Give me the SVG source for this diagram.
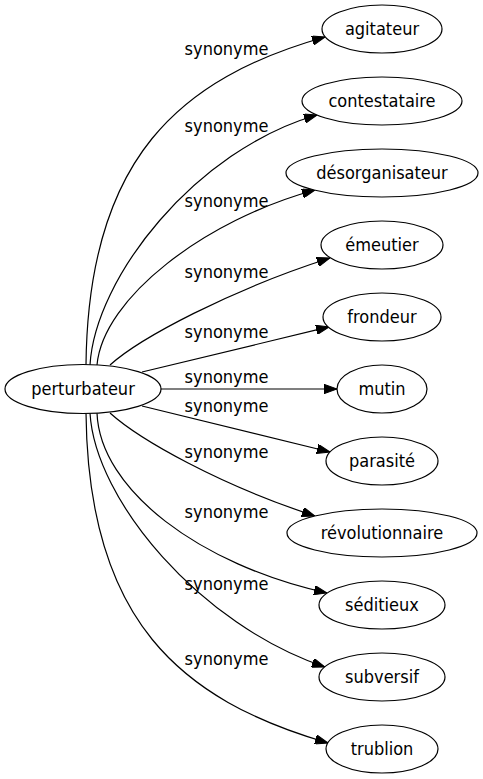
<svg xmlns="http://www.w3.org/2000/svg" width="483" height="779" viewBox="0 0 483 779">
<style>
text{font-family:"DejaVu Sans Condensed","DejaVu Sans",sans-serif;font-stretch:condensed;font-size:18px;fill:#000}
.n text{text-anchor:middle}
.n ellipse{fill:#fff;stroke:#000;stroke-width:1.2}
.e path{fill:none;stroke:#000;stroke-width:1.2;marker-end:url(#ah)}
.lbl{text-anchor:middle}
</style>
<defs>
<marker id="ah" markerUnits="userSpaceOnUse" viewBox="0 0 13 9.4" refX="13" refY="4.7" markerWidth="13" markerHeight="9.4" orient="auto">
<path d="M0,0L13,4.7L0,9.4Z" fill="#000" stroke="#000" stroke-width="1"/>
</marker>
</defs>
<rect width="483" height="779" fill="#fff"/>
<g id="edges" class="e">
<path d="M86,365C88,158 180,78 325,37"/>
<path d="M90,365C95,278 195,150 317,115"/>
<path d="M97,365C103,298 205,220 315,190"/>
<path d="M110,365C140,338 230,290 330,258"/>
<path d="M142,372C190,360 260,343 329,327"/>
<path d="M161,389L337,389"/>
<path d="M142,406C190,418 260,435 330,452"/>
<path d="M110,413C140,440 220,485 315,516"/>
<path d="M97,413C100,490 200,565 327,593"/>
<path d="M90,413C95,500 200,625 325,667"/>
<path d="M86,413C88,620 180,700 328,743"/>
<text class="lbl" x="226.5" y="55">synonyme</text>
<text class="lbl" x="226.5" y="132">synonyme</text>
<text class="lbl" x="226.5" y="207">synonyme</text>
<text class="lbl" x="226.5" y="278">synonyme</text>
<text class="lbl" x="226.5" y="338">synonyme</text>
<text class="lbl" x="226.5" y="383">synonyme</text>
<text class="lbl" x="226.5" y="412">synonyme</text>
<text class="lbl" x="226.5" y="458">synonyme</text>
<text class="lbl" x="226.5" y="518">synonyme</text>
<text class="lbl" x="226.5" y="590">synonyme</text>
<text class="lbl" x="226.5" y="665">synonyme</text>
</g>
<g id="perturbateur" class="n"><ellipse cx="83" cy="389" rx="78" ry="24.5"/><text x="83" y="395">perturbateur</text></g>
<g id="agitateur" class="n"><ellipse cx="382" cy="29" rx="60" ry="24"/><text x="382" y="35">agitateur</text></g>
<g id="contestataire" class="n"><ellipse cx="382" cy="101" rx="80" ry="24"/><text x="382" y="107">contestataire</text></g>
<g id="desorganisateur" class="n"><ellipse cx="382" cy="173" rx="96" ry="24"/><text x="382" y="179">désorganisateur</text></g>
<g id="emeutier" class="n"><ellipse cx="382" cy="245" rx="61" ry="24"/><text x="382" y="251">émeutier</text></g>
<g id="frondeur" class="n"><ellipse cx="382" cy="317" rx="59" ry="24"/><text x="382" y="323">frondeur</text></g>
<g id="mutin" class="n"><ellipse cx="382" cy="389" rx="45" ry="24"/><text x="382" y="395">mutin</text></g>
<g id="parasite" class="n"><ellipse cx="382" cy="461" rx="56" ry="24"/><text x="382" y="467">parasité</text></g>
<g id="revolutionnaire" class="n"><ellipse cx="382" cy="533" rx="95" ry="24"/><text x="382" y="539">révolutionnaire</text></g>
<g id="seditieux" class="n"><ellipse cx="382" cy="605" rx="63" ry="24"/><text x="382" y="611">séditieux</text></g>
<g id="subversif" class="n"><ellipse cx="382" cy="677" rx="63" ry="24"/><text x="382" y="683">subversif</text></g>
<g id="trublion" class="n"><ellipse cx="382" cy="749" rx="56" ry="24"/><text x="382" y="755">trublion</text></g>
</svg>
